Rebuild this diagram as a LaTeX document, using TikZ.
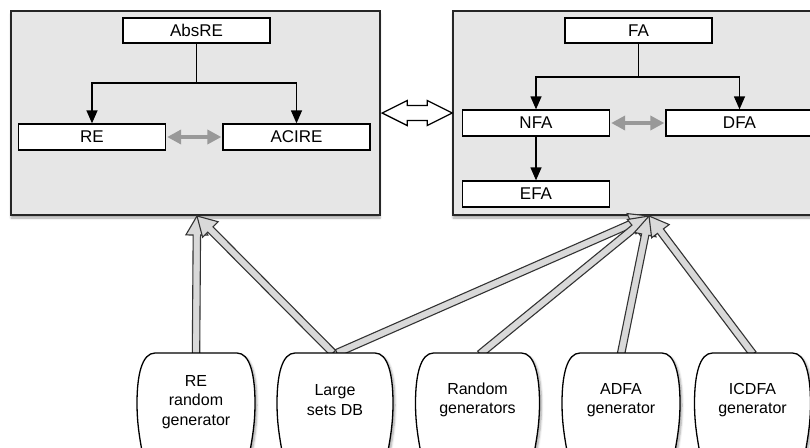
\documentclass[tikz,border=0pt]{standalone}
\usepackage{fontspec}
\setmainfont{Liberation Sans}
\usetikzlibrary{arrows.meta,shadows.blur,calc}
\definecolor{boxfill}{HTML}{E6E6E6}
\definecolor{fatfill}{HTML}{D9D9D9}
\definecolor{linkgray}{HTML}{999999}
\tikzset{
  container/.style={draw=black!85, line width=1.4pt, fill=boxfill, inner sep=0pt,
    blur shadow={shadow xshift=0pt, shadow yshift=-3pt, shadow blur steps=6, shadow opacity=35}},
  cls/.style={draw=black, line width=1.3pt, fill=white, minimum width=147pt, minimum height=25pt,
    inner sep=0pt, font=\fontsize{17}{20}\selectfont},
  arr/.style={line width=1.3pt, -{Triangle[length=13pt,width=11pt]}},
  plainline/.style={line width=1.3pt},
  gdbl/.style={linkgray, line width=3.5pt, {Triangle[length=14pt,width=14pt]}-{Triangle[length=14pt,width=14pt]}, shorten <=1pt, shorten >=1pt},
  whitearrow/.style={draw=black, line width=1.3pt, fill=white, line join=miter},
  fatarrowstyle/.style={draw=black!80, line width=1.1pt, fill=fatfill, line join=miter},
  genshape/.style={draw=black, line width=1.3pt, fill=white,
    blur shadow={shadow xshift=2pt, shadow yshift=-2pt, shadow blur steps=6, shadow opacity=35}},
  gentext/.style={align=center, inner sep=0pt, font=\fontsize{16}{19.5}\selectfont},
}
\newcommand\fatarrow[2]{%
  \pgfpointdiff{\pgfpointanchor{#1}{center}}{\pgfpointanchor{#2}{center}}%
  \pgfgetlastxy{\fatdx}{\fatdy}%
  \pgfmathsetmacro\fatang{atan2(\fatdy,\fatdx)}%
  \pgfmathsetmacro\fatlen{veclen(\fatdx,\fatdy)}%
  \begin{scope}[shift={(#1)}, rotate=\fatang]
    \path[fatarrowstyle] (0,3.7) -- (\fatlen-19,3.7) -- (\fatlen-19,11) -- (\fatlen,0)
      -- (\fatlen-19,-11) -- (\fatlen-19,-3.7) -- (0,-3.7) -- cycle;
  \end{scope}}
\newcommand\genshape[2]{% cx, half width
  \path[genshape] (#1-#2+18,353) -- (#1+#2-18,353)
    .. controls (#1+#2-5,353) and (#1+#2,375) .. (#1+#2,403)
    .. controls (#1+#2,425) and (#1+#2-3,440) .. (#1+#2-7,462)
    -- (#1-#2+7,462)
    .. controls (#1-#2+3,440) and (#1-#2,425) .. (#1-#2,403)
    .. controls (#1-#2,375) and (#1-#2+5,353) .. cycle;}
\begin{document}
\begin{tikzpicture}[x=1pt,y=-1pt]
\useasboundingbox (0,0) rectangle (810,447);
\begin{scope}
\clip (0,0) rectangle (810,447);

% containers
\node[container, minimum width=369pt, minimum height=204pt] (leftbox) at (195.5,113) {};
\node[container, minimum width=364pt, minimum height=204pt] (rightbox) at (635,113) {};

% left content
\node[cls] (absre) at (196.5,30.5) {AbsRE};
\node[cls, minimum height=26pt] (re) at (92,137) {RE};
\node[cls, minimum height=26pt] (acire) at (296.5,137) {ACIRE};
\coordinate (lj) at (196.5,83);
\draw[plainline] (absre.south) -- (lj);
\draw[arr] (lj) -| (re.north);
\draw[arr] (lj) -| (acire.north);
\draw[gdbl] (re.east) -- (acire.west);

% right content
\node[cls] (fa) at (638.5,30.5) {FA};
\node[cls, minimum height=26pt] (nfa) at (536,123) {NFA};
\node[cls, minimum height=26pt] (dfa) at (739.5,123) {DFA};
\node[cls, minimum height=26pt] (efa) at (536,194) {EFA};
\coordinate (rj) at (638.5,77);
\draw[plainline] (fa.south) -- (rj);
\draw[arr] (rj) -| (nfa.north);
\draw[arr] (rj) -| (dfa.north);
\draw[arr] (nfa.south) -- (efa.north);
\draw[gdbl] (nfa.east) -- (dfa.west);

% white double arrow between the containers
\path[whitearrow] ($(leftbox.east)+(1.5,0)$) -- ++(25,-12.5) -- ++(0,5) -- ++(20,0) -- ++(0,-5)
  -- ++(25,12.5) -- ++(-25,12.5) -- ++(0,-5) -- ++(-20,0) -- ++(0,5) -- cycle;

% hubs and starts
\coordinate (lhub) at (197,216);
\coordinate (rhub) at (649,216);
\coordinate (g1t) at (196,354);
\coordinate (g2ta) at (333,353);
\coordinate (g2tb) at (337,353);
\coordinate (g3t) at (480,354);
\coordinate (g4t) at (621,354);
\coordinate (g5t) at (753,354);

\fatarrow{g1t}{lhub}
\fatarrow{g2ta}{lhub}
\fatarrow{g2tb}{rhub}
\fatarrow{g3t}{rhub}
\fatarrow{g4t}{rhub}
\fatarrow{g5t}{rhub}

% generators
\genshape{196}{59}
\genshape{335}{58}
\genshape{477.5}{62}
\genshape{621}{59}
\genshape{752.5}{58}
\node[gentext] (g1) at (196,402) {RE\\random\\generator};
\node[gentext] (g2) at (335,400) {Large\\sets DB};
\node[gentext] (g3) at (477.5,400) {Random\\generators};
\node[gentext] (g4) at (621,400) {ADFA\\generator};
\node[gentext] (g5) at (752.5,400) {ICDFA\\generator};
\end{scope}
\end{tikzpicture}
\end{document}
